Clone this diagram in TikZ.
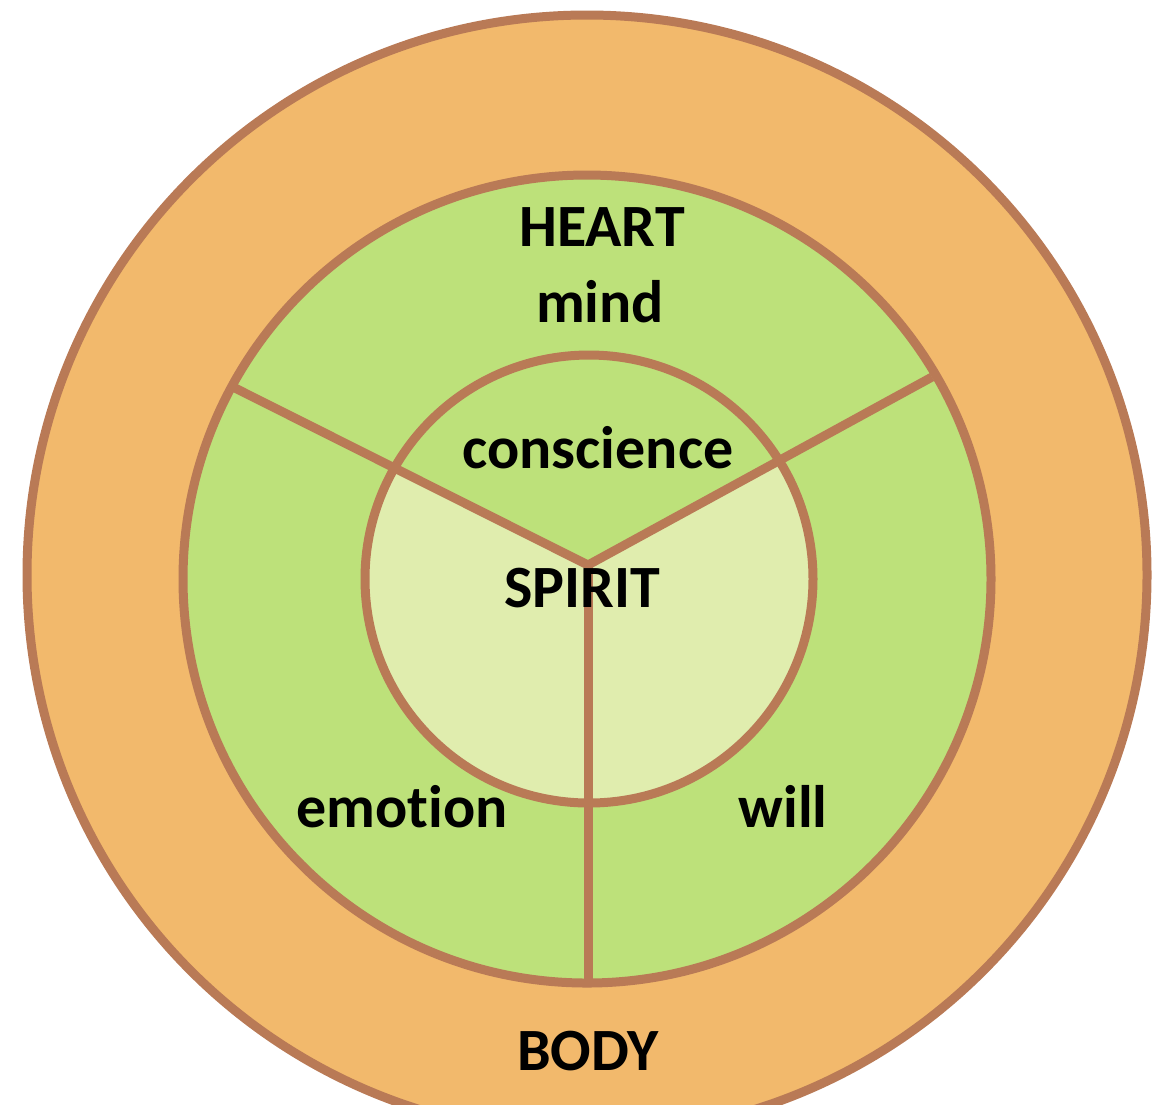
\documentclass[tikz,border=0pt]{standalone}
\usepackage{fontspec}
\setmainfont{Carlito}[Ligatures=NoCommon]
\definecolor{bodyorange}{HTML}{F2B96C}
\definecolor{heartgreen}{HTML}{BDE17A}
\definecolor{spiritgreen}{HTML}{E0EDAE}
\definecolor{rimbrown}{HTML}{B97A56}

\begin{document}
\begin{tikzpicture}[x=0.3pt,y=-0.3pt,
  rim/.style={draw=rimbrown,line width=2.7pt},
  lbl/.style={font=\bfseries\fontsize{18}{20}\selectfont,anchor=base,inner sep=0pt}]
\useasboundingbox (0,0) rectangle (1153,1104);

\coordinate (cbody) at (587,575);
\coordinate (cheart) at (587,579);
\coordinate (cspirit) at (589,579);
\coordinate (hub) at (588,565);
\coordinate (lend) at (235,388);
\coordinate (rend) at (932,377);
\coordinate (bend) at (588,985);

% rings
\fill[bodyorange] (cbody) circle[radius=560];
\fill[heartgreen] (cheart) circle[radius=404];
\fill[spiritgreen] (cspirit) circle[radius=224];
\begin{scope}
  \clip (cspirit) circle[radius=224];
  \fill[heartgreen] (hub) -- (lend) -- (235,300) -- (932,300) -- (rend) -- cycle;
\end{scope}

% spokes
\draw[rim] (hub) -- (lend);
\draw[rim] (hub) -- (rend);
\draw[rim] (hub) -- (bend);

\draw[rim] (cbody) circle[radius=560];
\draw[rim] (cheart) circle[radius=404];
\draw[rim] (cspirit) circle[radius=224];

\node[lbl] (heart) at (602,246) {HEART};
\node[lbl] (mind) at (600,322) {mind};
\node[lbl] (conscience) at (598,468) {conscience};
\node[lbl] (spirit) at (582,607) {SPIRIT};
\node[lbl] (emotion) at (402,827) {emotion};
\node[lbl] (will) at (783,827) {will};
\node[lbl] (body) at (588,1070) {BODY};
\end{tikzpicture}
\end{document}
